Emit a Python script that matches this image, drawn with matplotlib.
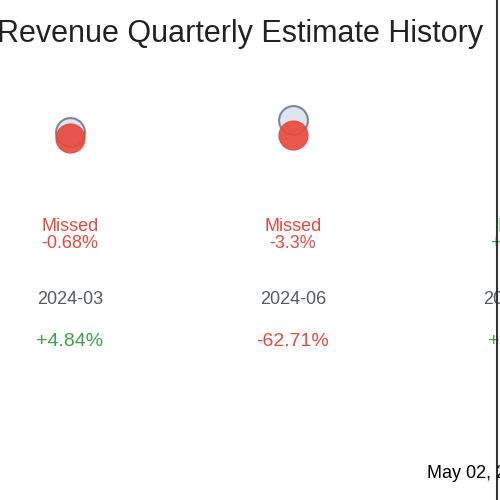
import matplotlib
matplotlib.use("Agg")
import matplotlib.pyplot as plt
from matplotlib.transforms import blended_transform_factory

plt.rcParams['font.family'] = ['Liberation Sans', 'DejaVu Sans']

quarters = ['2024-03', '2024-06', '2024-09']
estimates = [100, 104, 102]
actuals = [98, 99, 106]
surprise = ['-0.68%', '-3.3%', '+4.1%']
yoy = ['+4.84%', '-62.71%', '+5.2%']
red, green, grey = '#e8473b', '#3aa24b', '#555a66'

fig = plt.figure(figsize=(5, 5), dpi=100)
ax = fig.add_axes([0, 0, 1, 1])
ax.set_xlim(-70 / 223, 430 / 223)
ax.set_ylim((432 - 500) / 3, 432 / 3)
ax.axis('off')

xs = list(range(len(quarters)))
ax.scatter(xs, estimates, s=430, facecolor='#dfe5ee', edgecolor='#7a879b', linewidth=1.5, zorder=2)
ax.scatter(xs, actuals, s=430, color=red, alpha=0.9, zorder=3)

tr = blended_transform_factory(ax.transData, fig.transFigure)
for i, q in enumerate(quarters):
    beat = not surprise[i].startswith('-')
    ax.text(i, 1 - 235 / 500, ('Beat' if beat else 'Missed') + '\n' + surprise[i],
            color=green if beat else red, ha='center', va='center', fontsize=13,
            linespacing=1.05, transform=tr)
    ax.text(i, 1 - 300 / 500, q, color=grey, ha='center', va='center', fontsize=13, transform=tr)
    ax.text(i, 1 - 342 / 500, yoy[i], color=red if yoy[i].startswith('-') else green,
            ha='center', va='center', fontsize=14, transform=tr)

fig.text(-0.006, 1 - 34 / 500, 'Revenue Quarterly Estimate History', fontsize=22,
         ha='left', va='center', color='#222222')
fig.text(427 / 500, 1 - 473 / 500, 'May 02, 2025', fontsize=13, ha='left', va='center')
fig.add_artist(plt.Line2D([497 / 500, 497 / 500], [0, 1], color='#333333', linewidth=1.5))

fig.savefig('out.png', dpi=100)
